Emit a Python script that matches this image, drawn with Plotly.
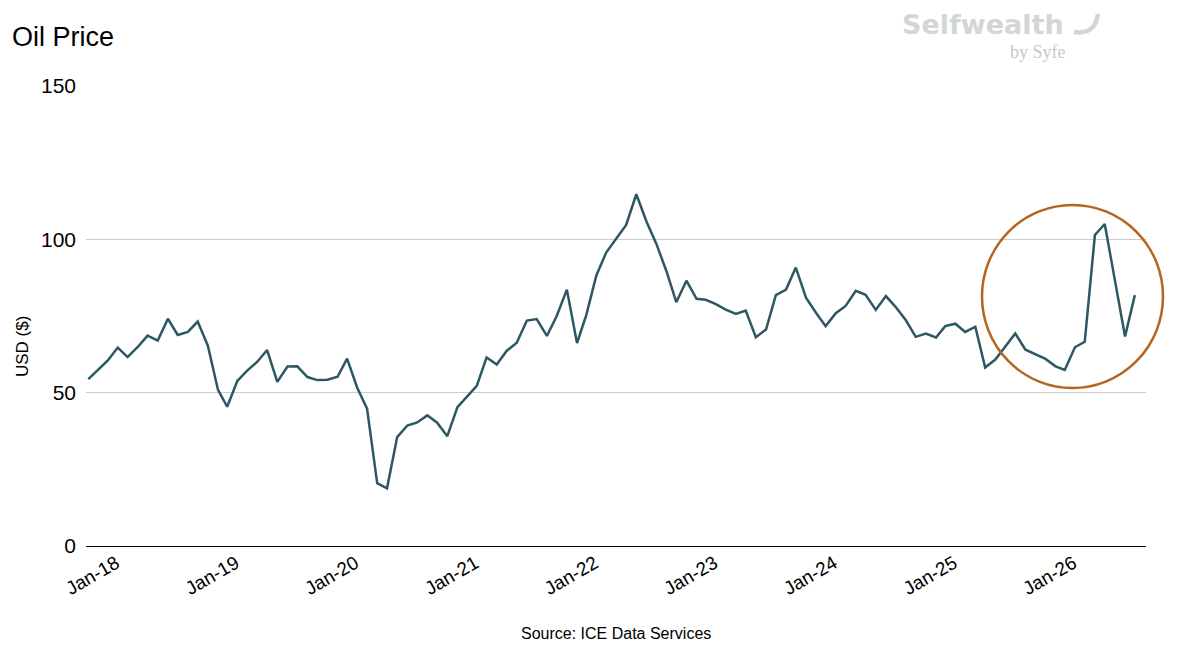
import pandas as pd
import plotly.graph_objects as go

# month-end oil price (USD)
prices = [
    54.4, 57.4, 60.4,
    64.7, 61.6, 64.9, 68.6, 67.0, 74.1, 68.8, 69.8, 73.2, 65.3, 50.9, 45.4,
    53.8, 57.2, 60.1, 63.9, 53.5, 58.5, 58.6, 55.1, 54.1, 54.2, 55.2, 61.1,
    51.6, 44.8, 20.5, 18.8, 35.5, 39.3, 40.3, 42.6, 40.2, 35.8, 45.3, 48.5,
    52.2, 61.5, 59.2, 63.6, 66.3, 73.5, 74.0, 68.5, 75.0, 83.6, 66.2, 75.2,
    88.2, 95.7, 100.3, 104.7, 114.7, 105.8, 98.6, 89.6, 79.5, 86.5, 80.6, 80.3,
    78.9, 77.1, 75.7, 76.8, 68.1, 70.6, 81.8, 83.6, 90.8, 81.0, 76.0, 71.7,
    75.9, 78.3, 83.2, 81.9, 77.0, 81.5, 77.9, 73.6, 68.2, 69.3, 68.0, 71.7,
    72.5, 69.8, 71.5, 58.2, 60.8, 65.1, 69.3, 64.0, 62.4, 61.0, 58.6, 57.4,
    64.8, 66.6, 101.4, 105.0, 86.7, 68.3, 81.8,
]
months = pd.date_range("2018-01-01", periods=len(prices), freq="MS")

y_ticks = [0, 50, 100, 150]

FONT = "Liberation Sans, Arial, sans-serif"
LOGO_GREY = "#d2d6d7"

# page body has an 8px margin, so the figure is a bit smaller than the window
PAGE = 8
W, H = 1186 - PAGE, 654 - PAGE


# plot area in window pixels: left 86, right 1146, top 86, bottom 546
def px(x, y):
    return (x - 86) / 1060, (546 - y) / 460


fig = go.Figure()
fig.add_trace(go.Scatter(x=months, y=prices, mode="lines",
                         line=dict(color="#2d5763", width=2.5),
                         name="Oil Price", showlegend=False))

fig.update_layout(
    width=W, height=H,
    margin=dict(l=86 - PAGE, r=40, t=86 - PAGE, b=H - (546 - PAGE)),
    paper_bgcolor="white", plot_bgcolor="white",
    font=dict(family=FONT, color="black"),
    title=dict(text="Oil Price", x=(12 - PAGE) / W, xanchor="left",
               y=1 - (37 - PAGE) / H, yanchor="middle",
               font=dict(size=27, color="black")),
    xaxis=dict(type="date", range=["2017-12-25", "2026-11-04"],
               tick0="2018-01-01", dtick="M12", tickformat="%b-%y",
               tickangle=-30, tickfont=dict(size=19, color="black"),
               showgrid=False, zeroline=False, ticks="",
               showline=True, linecolor="black", linewidth=1,
               ticklabelstandoff=-2, ticklabelshift=28),
    yaxis=dict(range=[0, 150], tickvals=y_ticks,
               tickfont=dict(size=21, color="black"),
               showgrid=True, gridcolor="#cccccc", gridwidth=1,
               zeroline=False, ticks="", showline=False,
               ticklabelstandoff=9),
)

ax, ay = px(22.5, 346.5)
fig.add_annotation(text="USD ($)", xref="paper", yref="paper", x=ax, y=ay,
                   xanchor="center", yanchor="middle",
                   textangle=-90, showarrow=False, font=dict(size=17))

sx, sy = px(616, 633)
fig.add_annotation(text="Source: ICE Data Services", xref="paper", yref="paper",
                   x=sx, y=sy, xanchor="center", yanchor="middle",
                   showarrow=False, font=dict(size=16))

# logo
lx, ly = px(900, 25)
fig.add_annotation(text="<b>Selfwealth</b>", xref="paper", yref="paper",
                   x=lx, y=ly, xanchor="left", yanchor="middle", showarrow=False,
                   font=dict(family="DejaVu Sans", size=27, color=LOGO_GREY))
bx, by = px(1068, 52)
fig.add_annotation(text="by Syfe", xref="paper", yref="paper",
                   x=bx, y=by, xanchor="right", yanchor="middle", showarrow=False,
                   font=dict(family="Liberation Serif, serif", size=18, color="#c4c9ca"))
p0, p1, p2 = px(1098, 14), px(1095, 35), px(1074, 32)
fig.add_shape(type="path", xref="paper", yref="paper",
              path=f"M {p0[0]},{p0[1]} Q {p1[0]},{p1[1]} {p2[0]},{p2[1]}",
              line=dict(color=LOGO_GREY, width=4.5))

# highlight circle around the recent spike
c0, c1 = px(982, 388), px(1163, 205)
fig.add_shape(type="circle", xref="paper", yref="paper",
              x0=c0[0], y0=c0[1], x1=c1[0], y1=c1[1],
              line=dict(color="#b5651d", width=2.5))

fig.write_html("out.html")
